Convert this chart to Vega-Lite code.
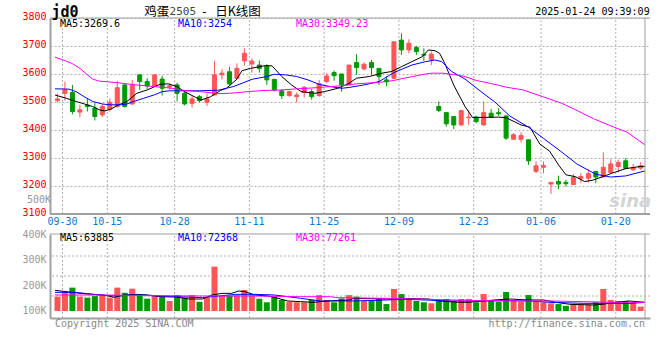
{
"$schema": "https://vega.github.io/schema/vega-lite/v6.json",
"autosize": {"type": "none"},
"width": 600,
"height": 300,
"padding": {"left": 50, "top": 18, "right": 10, "bottom": 42},
"background": "white",
"config": {
  "view": {"stroke": null},
  "axis": {"labelFont": "DejaVu Sans Mono", "labelFontSize": 10, "ticks": false, "domainColor": "#a0a0a0", "domainWidth": 2, "title": null}
},
"datasets": {
"ticks": [
{"i":0,"d":"09-30"},{"i":6,"d":"10-15"},{"i":15,"d":"10-28"},{"i":25,"d":"11-11"},{"i":35,"d":"11-25"},{"i":45,"d":"12-09"},{"i":55,"d":"12-23"},{"i":64,"d":"01-06"},{"i":74,"d":"01-20"}
],
"k": [
{"i":0,"d":"09-30","o":3505,"h":3530,"l":3499,"c":3511,"v":156},
{"i":1,"d":"10-08","o":3531,"h":3573,"l":3505,"c":3543,"v":173},
{"i":2,"d":"10-09","o":3534,"h":3561,"l":3456,"c":3466,"v":191},
{"i":3,"d":"10-10","o":3464,"h":3490,"l":3445,"c":3472,"v":156},
{"i":4,"d":"10-11","o":3489,"h":3513,"l":3466,"c":3484,"v":152},
{"i":5,"d":"10-14","o":3478,"h":3498,"l":3434,"c":3448,"v":158},
{"i":6,"d":"10-15","o":3454,"h":3493,"l":3446,"c":3484,"v":162},
{"i":7,"d":"10-16","o":3474,"h":3513,"l":3466,"c":3499,"v":152},
{"i":8,"d":"10-17","o":3484,"h":3575,"l":3480,"c":3551,"v":191},
{"i":9,"d":"10-18","o":3561,"h":3567,"l":3480,"c":3484,"v":171},
{"i":10,"d":"10-21","o":3493,"h":3579,"l":3490,"c":3561,"v":187},
{"i":11,"d":"10-22","o":3597,"h":3597,"l":3543,"c":3573,"v":162},
{"i":12,"d":"10-23","o":3573,"h":3585,"l":3546,"c":3557,"v":148},
{"i":13,"d":"10-24","o":3557,"h":3597,"l":3555,"c":3597,"v":158},
{"i":14,"d":"10-25","o":3582,"h":3594,"l":3523,"c":3549,"v":158},
{"i":15,"d":"10-28","o":3553,"h":3567,"l":3543,"c":3558,"v":139},
{"i":16,"d":"10-29","o":3561,"h":3569,"l":3502,"c":3531,"v":162},
{"i":17,"d":"10-30","o":3531,"h":3537,"l":3488,"c":3493,"v":152},
{"i":18,"d":"10-31","o":3495,"h":3525,"l":3480,"c":3511,"v":162},
{"i":19,"d":"11-01","o":3519,"h":3525,"l":3498,"c":3505,"v":136},
{"i":20,"d":"11-04","o":3499,"h":3531,"l":3486,"c":3511,"v":152},
{"i":21,"d":"11-05","o":3525,"h":3647,"l":3525,"c":3597,"v":273},
{"i":22,"d":"11-06","o":3597,"h":3617,"l":3581,"c":3603,"v":158},
{"i":23,"d":"11-07","o":3608,"h":3626,"l":3561,"c":3565,"v":160},
{"i":24,"d":"11-08","o":3585,"h":3638,"l":3581,"c":3620,"v":162},
{"i":25,"d":"11-11","o":3647,"h":3692,"l":3630,"c":3674,"v":182},
{"i":26,"d":"11-12","o":3636,"h":3656,"l":3605,"c":3646,"v":162},
{"i":27,"d":"11-13","o":3632,"h":3648,"l":3605,"c":3620,"v":148},
{"i":28,"d":"11-14","o":3629,"h":3635,"l":3561,"c":3579,"v":134},
{"i":29,"d":"11-15","o":3581,"h":3581,"l":3537,"c":3543,"v":156},
{"i":30,"d":"11-18","o":3540,"h":3546,"l":3511,"c":3523,"v":143},
{"i":31,"d":"11-19","o":3523,"h":3541,"l":3519,"c":3537,"v":136},
{"i":32,"d":"11-20","o":3519,"h":3534,"l":3498,"c":3525,"v":134},
{"i":33,"d":"11-21","o":3534,"h":3555,"l":3516,"c":3553,"v":134},
{"i":34,"d":"11-22","o":3537,"h":3546,"l":3508,"c":3519,"v":143},
{"i":35,"d":"11-25","o":3523,"h":3579,"l":3519,"c":3565,"v":162},
{"i":36,"d":"11-26","o":3573,"h":3603,"l":3567,"c":3593,"v":143},
{"i":37,"d":"11-27","o":3605,"h":3612,"l":3576,"c":3594,"v":134},
{"i":38,"d":"11-28","o":3600,"h":3600,"l":3537,"c":3561,"v":149},
{"i":39,"d":"11-29","o":3561,"h":3632,"l":3561,"c":3632,"v":162},
{"i":40,"d":"12-02","o":3641,"h":3671,"l":3597,"c":3623,"v":156},
{"i":41,"d":"12-03","o":3618,"h":3641,"l":3614,"c":3635,"v":139},
{"i":42,"d":"12-04","o":3641,"h":3650,"l":3597,"c":3623,"v":139},
{"i":43,"d":"12-05","o":3620,"h":3620,"l":3561,"c":3591,"v":149},
{"i":44,"d":"12-06","o":3579,"h":3591,"l":3557,"c":3572,"v":127},
{"i":45,"d":"12-09","o":3585,"h":3715,"l":3581,"c":3715,"v":186},
{"i":46,"d":"12-10","o":3721,"h":3745,"l":3668,"c":3686,"v":166},
{"i":47,"d":"12-11","o":3686,"h":3724,"l":3674,"c":3710,"v":149},
{"i":48,"d":"12-12","o":3695,"h":3701,"l":3668,"c":3680,"v":139},
{"i":49,"d":"12-13","o":3670,"h":3692,"l":3647,"c":3667,"v":134},
{"i":50,"d":"12-16","o":3652,"h":3680,"l":3632,"c":3671,"v":130},
{"i":51,"d":"12-17","o":3484,"h":3502,"l":3464,"c":3470,"v":143},
{"i":52,"d":"12-18","o":3462,"h":3462,"l":3412,"c":3422,"v":147},
{"i":53,"d":"12-19","o":3448,"h":3448,"l":3403,"c":3418,"v":140},
{"i":54,"d":"12-20","o":3418,"h":3472,"l":3415,"c":3469,"v":147},
{"i":55,"d":"12-23","o":3444,"h":3472,"l":3418,"c":3446,"v":147},
{"i":56,"d":"12-24","o":3446,"h":3451,"l":3424,"c":3430,"v":134},
{"i":57,"d":"12-25","o":3418,"h":3502,"l":3415,"c":3462,"v":166},
{"i":58,"d":"12-26","o":3460,"h":3475,"l":3443,"c":3446,"v":139},
{"i":59,"d":"12-27","o":3462,"h":3478,"l":3450,"c":3458,"v":136},
{"i":60,"d":"12-30","o":3450,"h":3454,"l":3365,"c":3371,"v":174},
{"i":61,"d":"12-31","o":3367,"h":3389,"l":3365,"c":3383,"v":139},
{"i":62,"d":"01-02","o":3367,"h":3392,"l":3355,"c":3380,"v":136},
{"i":63,"d":"01-03","o":3365,"h":3365,"l":3276,"c":3290,"v":162},
{"i":64,"d":"01-06","o":3252,"h":3288,"l":3246,"c":3272,"v":139},
{"i":65,"d":"01-07","o":3267,"h":3288,"l":3246,"c":3273,"v":134},
{"i":66,"d":"01-08","o":3207,"h":3213,"l":3172,"c":3213,"v":130},
{"i":67,"d":"01-09","o":3216,"h":3237,"l":3189,"c":3207,"v":127},
{"i":68,"d":"01-10","o":3213,"h":3222,"l":3198,"c":3208,"v":120},
{"i":69,"d":"01-13","o":3205,"h":3242,"l":3205,"c":3231,"v":126},
{"i":70,"d":"01-14","o":3226,"h":3246,"l":3210,"c":3234,"v":126},
{"i":71,"d":"01-15","o":3228,"h":3260,"l":3213,"c":3244,"v":126},
{"i":72,"d":"01-16","o":3252,"h":3254,"l":3210,"c":3232,"v":134},
{"i":73,"d":"01-17","o":3232,"h":3320,"l":3232,"c":3267,"v":186},
{"i":74,"d":"01-20","o":3248,"h":3296,"l":3246,"c":3279,"v":143},
{"i":75,"d":"01-21","o":3270,"h":3294,"l":3248,"c":3284,"v":139},
{"i":76,"d":"01-22","o":3290,"h":3300,"l":3260,"c":3263,"v":139},
{"i":77,"d":"01-23","o":3258,"h":3279,"l":3254,"c":3266,"v":134},
{"i":78,"d":"01-24","o":3264,"h":3284,"l":3258,"c":3272,"v":117}
],
"ma": [
{"s":"MA5","i":-0.33,"v":3525},{"s":"MA5","i":1.2,"v":3513},{"s":"MA5","i":2.5,"v":3502},{"s":"MA5","i":3.6,"v":3493},{"s":"MA5","i":4.7,"v":3484},{"s":"MA5","i":5.6,"v":3472},{"s":"MA5","i":6.3,"v":3468},{"s":"MA5","i":7.1,"v":3474},{"s":"MA5","i":8.2,"v":3490},{"s":"MA5","i":9.3,"v":3502},{"s":"MA5","i":10.6,"v":3531},{"s":"MA5","i":12,"v":3543},{"s":"MA5","i":13.7,"v":3563},{"s":"MA5","i":14.8,"v":3565},{"s":"MA5","i":16,"v":3555},{"s":"MA5","i":17,"v":3537},{"s":"MA5","i":18,"v":3523},{"s":"MA5","i":19.2,"v":3507},{"s":"MA5","i":20.5,"v":3519},{"s":"MA5","i":21.8,"v":3541},{"s":"MA5","i":22.6,"v":3549},{"s":"MA5","i":23.9,"v":3579},{"s":"MA5","i":24.7,"v":3612},{"s":"MA5","i":25.8,"v":3620},{"s":"MA5","i":27.8,"v":3630},{"s":"MA5","i":28.7,"v":3629},{"s":"MA5","i":30,"v":3591},{"s":"MA5","i":31.3,"v":3561},{"s":"MA5","i":32.6,"v":3537},{"s":"MA5","i":34.4,"v":3531},{"s":"MA5","i":35.7,"v":3537},{"s":"MA5","i":37.5,"v":3549},{"s":"MA5","i":39,"v":3567},{"s":"MA5","i":40,"v":3585},{"s":"MA5","i":41.7,"v":3591},{"s":"MA5","i":43.4,"v":3603},{"s":"MA5","i":44.7,"v":3609},{"s":"MA5","i":46,"v":3626},{"s":"MA5","i":47.4,"v":3644},{"s":"MA5","i":48.8,"v":3662},{"s":"MA5","i":49.6,"v":3686},{"s":"MA5","i":50.5,"v":3683},{"s":"MA5","i":51.1,"v":3674},{"s":"MA5","i":51.8,"v":3638},{"s":"MA5","i":53,"v":3560},{"s":"MA5","i":54.5,"v":3484},{"s":"MA5","i":55.5,"v":3445},{"s":"MA5","i":57,"v":3445},{"s":"MA5","i":59,"v":3446},{"s":"MA5","i":60,"v":3444},{"s":"MA5","i":62,"v":3418},{"s":"MA5","i":63.2,"v":3410},{"s":"MA5","i":64.5,"v":3350},{"s":"MA5","i":65.8,"v":3325},{"s":"MA5","i":67.1,"v":3272},{"s":"MA5","i":68,"v":3240},{"s":"MA5","i":69.3,"v":3233},{"s":"MA5","i":70.5,"v":3216},{"s":"MA5","i":71.5,"v":3220},{"s":"MA5","i":72.8,"v":3232},{"s":"MA5","i":74.2,"v":3246},{"s":"MA5","i":76,"v":3262},{"s":"MA5","i":78,"v":3270},{"s":"MA5","i":78.58,"v":3270},
{"s":"MA10","i":-0.33,"v":3547},{"s":"MA10","i":1.5,"v":3546},{"s":"MA10","i":2.5,"v":3537},{"s":"MA10","i":3.5,"v":3520},{"s":"MA10","i":4.7,"v":3502},{"s":"MA10","i":6,"v":3493},{"s":"MA10","i":7,"v":3490},{"s":"MA10","i":8.5,"v":3490},{"s":"MA10","i":9.3,"v":3493},{"s":"MA10","i":10.2,"v":3502},{"s":"MA10","i":11.5,"v":3513},{"s":"MA10","i":13,"v":3526},{"s":"MA10","i":14,"v":3537},{"s":"MA10","i":15,"v":3540},{"s":"MA10","i":19,"v":3540},{"s":"MA10","i":21.5,"v":3542},{"s":"MA10","i":23.5,"v":3555},{"s":"MA10","i":24.7,"v":3567},{"s":"MA10","i":26,"v":3581},{"s":"MA10","i":28,"v":3591},{"s":"MA10","i":29,"v":3599},{"s":"MA10","i":30.5,"v":3597},{"s":"MA10","i":32,"v":3591},{"s":"MA10","i":33.5,"v":3579},{"s":"MA10","i":35,"v":3563},{"s":"MA10","i":36.5,"v":3555},{"s":"MA10","i":38,"v":3549},{"s":"MA10","i":39,"v":3552},{"s":"MA10","i":41,"v":3561},{"s":"MA10","i":43,"v":3573},{"s":"MA10","i":45,"v":3605},{"s":"MA10","i":47.4,"v":3632},{"s":"MA10","i":49.2,"v":3644},{"s":"MA10","i":50.5,"v":3650},{"s":"MA10","i":51.4,"v":3644},{"s":"MA10","i":52.7,"v":3609},{"s":"MA10","i":54.5,"v":3582},{"s":"MA10","i":56.5,"v":3540},{"s":"MA10","i":58.5,"v":3500},{"s":"MA10","i":60.5,"v":3450},{"s":"MA10","i":63,"v":3410},{"s":"MA10","i":65,"v":3370},{"s":"MA10","i":67.4,"v":3322},{"s":"MA10","i":69.5,"v":3278},{"s":"MA10","i":72,"v":3242},{"s":"MA10","i":74,"v":3232},{"s":"MA10","i":76,"v":3236},{"s":"MA10","i":78.58,"v":3254},
{"s":"MA30","i":-0.33,"v":3660},{"s":"MA30","i":1,"v":3648},{"s":"MA30","i":2,"v":3637},{"s":"MA30","i":3,"v":3620},{"s":"MA30","i":4,"v":3597},{"s":"MA30","i":4.7,"v":3582},{"s":"MA30","i":5.5,"v":3575},{"s":"MA30","i":8,"v":3569},{"s":"MA30","i":10.5,"v":3561},{"s":"MA30","i":13,"v":3555},{"s":"MA30","i":15,"v":3550},{"s":"MA30","i":17,"v":3541},{"s":"MA30","i":19.5,"v":3536},{"s":"MA30","i":21.5,"v":3530},{"s":"MA30","i":23,"v":3531},{"s":"MA30","i":25.5,"v":3537},{"s":"MA30","i":27.5,"v":3541},{"s":"MA30","i":30,"v":3543},{"s":"MA30","i":32,"v":3547},{"s":"MA30","i":34,"v":3550},{"s":"MA30","i":36,"v":3554},{"s":"MA30","i":38,"v":3558},{"s":"MA30","i":40,"v":3565},{"s":"MA30","i":43,"v":3570},{"s":"MA30","i":45,"v":3577},{"s":"MA30","i":46,"v":3583},{"s":"MA30","i":47.5,"v":3591},{"s":"MA30","i":49,"v":3599},{"s":"MA30","i":50,"v":3603},{"s":"MA30","i":51.5,"v":3603},{"s":"MA30","i":53,"v":3598},{"s":"MA30","i":54.5,"v":3591},{"s":"MA30","i":56,"v":3577},{"s":"MA30","i":58,"v":3566},{"s":"MA30","i":60,"v":3553},{"s":"MA30","i":62.3,"v":3543},{"s":"MA30","i":64.9,"v":3519},{"s":"MA30","i":67.4,"v":3496},{"s":"MA30","i":69.3,"v":3472},{"s":"MA30","i":71.8,"v":3439},{"s":"MA30","i":73.7,"v":3418},{"s":"MA30","i":76.2,"v":3392},{"s":"MA30","i":78.58,"v":3347}
],
"vma": [
{"s":"MA5","i":-0.33,"v":180.5},{"s":"MA5","i":1.9,"v":172.7},{"s":"MA5","i":4.5,"v":164.9},{"s":"MA5","i":6.2,"v":162.3},{"s":"MA5","i":7.6,"v":153.2},{"s":"MA5","i":8.9,"v":162.3},{"s":"MA5","i":10.6,"v":164.9},{"s":"MA5","i":11.9,"v":162.3},{"s":"MA5","i":13.7,"v":155.8},{"s":"MA5","i":15.9,"v":154.5},{"s":"MA5","i":17.6,"v":146.7},{"s":"MA5","i":19.4,"v":146.7},{"s":"MA5","i":20.7,"v":162.3},{"s":"MA5","i":22,"v":168.8},{"s":"MA5","i":23.3,"v":168.8},{"s":"MA5","i":24.2,"v":177.9},{"s":"MA5","i":25.1,"v":175.3},{"s":"MA5","i":26.4,"v":162.3},{"s":"MA5","i":28.2,"v":158.4},{"s":"MA5","i":29.5,"v":149.4},{"s":"MA5","i":30.8,"v":139},{"s":"MA5","i":32.5,"v":136.4},{"s":"MA5","i":34.3,"v":133.8},{"s":"MA5","i":36.1,"v":139},{"s":"MA5","i":39.1,"v":142.9},{"s":"MA5","i":39.6,"v":149.4},{"s":"MA5","i":44,"v":146.7},{"s":"MA5","i":46.1,"v":149.4},{"s":"MA5","i":49.6,"v":146.7},{"s":"MA5","i":51,"v":139},{"s":"MA5","i":53.6,"v":133.8},{"s":"MA5","i":54.9,"v":133.8},{"s":"MA5","i":57.1,"v":139},{"s":"MA5","i":58.4,"v":142.9},{"s":"MA5","i":60.6,"v":146.7},{"s":"MA5","i":62.8,"v":142.9},{"s":"MA5","i":65,"v":142.9},{"s":"MA5","i":66.7,"v":133.8},{"s":"MA5","i":68.5,"v":126},{"s":"MA5","i":71.6,"v":123.4},{"s":"MA5","i":72.9,"v":126},{"s":"MA5","i":74.6,"v":133.8},{"s":"MA5","i":76.4,"v":139},{"s":"MA5","i":78.58,"v":133.8},
{"s":"MA10","i":-0.33,"v":172.7},{"s":"MA10","i":2.3,"v":172.7},{"s":"MA10","i":4,"v":167.5},{"s":"MA10","i":5.8,"v":162.3},{"s":"MA10","i":8,"v":158.4},{"s":"MA10","i":9.8,"v":162.3},{"s":"MA10","i":11.9,"v":162.3},{"s":"MA10","i":13.7,"v":158.4},{"s":"MA10","i":16.3,"v":155.8},{"s":"MA10","i":19.4,"v":151.9},{"s":"MA10","i":20.7,"v":155.8},{"s":"MA10","i":23.8,"v":164.9},{"s":"MA10","i":26.4,"v":164.9},{"s":"MA10","i":29,"v":162.3},{"s":"MA10","i":30.8,"v":155.8},{"s":"MA10","i":32.5,"v":149.4},{"s":"MA10","i":35.2,"v":139},{"s":"MA10","i":39.6,"v":139},{"s":"MA10","i":44,"v":142.9},{"s":"MA10","i":46.1,"v":145.5},{"s":"MA10","i":49.2,"v":142.9},{"s":"MA10","i":52.7,"v":139},{"s":"MA10","i":57.1,"v":139},{"s":"MA10","i":59.7,"v":140.3},{"s":"MA10","i":63.2,"v":139},{"s":"MA10","i":65.9,"v":133.8},{"s":"MA10","i":70.3,"v":129.9},{"s":"MA10","i":76.8,"v":129.9},{"s":"MA10","i":78.58,"v":133.8},
{"s":"MA30","i":-0.33,"v":162.3},{"s":"MA30","i":6.2,"v":162.3},{"s":"MA30","i":12.8,"v":159.7},{"s":"MA30","i":19.4,"v":158.4},{"s":"MA30","i":26,"v":158.4},{"s":"MA30","i":32.5,"v":155.8},{"s":"MA30","i":36.5,"v":155.8},{"s":"MA30","i":37.4,"v":151.9},{"s":"MA30","i":44,"v":149.4},{"s":"MA30","i":48.3,"v":146.7},{"s":"MA30","i":52.7,"v":142.9},{"s":"MA30","i":57.1,"v":140.3},{"s":"MA30","i":61.5,"v":139},{"s":"MA30","i":65.9,"v":139},{"s":"MA30","i":70.3,"v":136.4},{"s":"MA30","i":74.6,"v":133.8},{"s":"MA30","i":78.58,"v":133.8}
]
},
"resolve": {"scale": {"y": "independent"}, "axis": {"y": "independent"}},
"layer": [
{
  "layer": [
    {
      "data": {"name": "ticks"},
      "mark": {"type": "rule", "strokeDash": [2, 2], "color": "#b0b0b0", "strokeWidth": 1, "xOffset": 5},
      "encoding": {
        "x": {"field": "i", "type": "quantitative", "scale": {"domain": [-0.329, 78.577], "nice": false, "zero": false},
              "axis": {"labels": false, "grid": false, "ticks": false}},
        "y": {"datum": 3100, "type": "quantitative", "scale": {"domain": [3100, 3800], "range": [196, 0], "nice": false, "zero": false},
              "axis": {"values": [3100, 3200, 3300, 3400, 3500, 3600, 3700, 3800], "format": "d", "grid": true, "gridDash": [2, 2], "gridColor": "#b0b0b0", "labelColor": "#ee0000", "labelPadding": 4, "labelOffset": -2}},
        "y2": {"datum": 3800}
      }
    },
    {
      "data": {"name": "k"},
      "mark": {"type": "rule", "strokeWidth": 1},
      "encoding": {
        "x": {"field": "i", "type": "quantitative"},
        "y": {"field": "l", "type": "quantitative"},
        "y2": {"field": "h"},
        "color": {"condition": {"test": "datum.c >= datum.o", "value": "#ff5555"}, "value": "#009a00"}
      }
    },
    {
      "data": {"name": "k"},
      "mark": {"type": "bar", "size": 4, "strokeWidth": 1},
      "encoding": {
        "x": {"field": "i", "type": "quantitative"},
        "y": {"field": "o", "type": "quantitative"},
        "y2": {"field": "c"},
        "color": {"condition": {"test": "datum.c >= datum.o", "value": "#ff5555"}, "value": "#009a00"},
        "stroke": {"condition": {"test": "datum.c >= datum.o", "value": "#ff5555"}, "value": "#009a00"}
      }
    },
    {
      "data": {"name": "ma"},
      "mark": {"type": "line", "strokeWidth": 1},
      "encoding": {
        "x": {"field": "i", "type": "quantitative"},
        "y": {"field": "v", "type": "quantitative"},
        "color": {"field": "s", "type": "nominal", "scale": {"domain": ["MA5", "MA10", "MA30"], "range": ["#000000", "#0000ff", "#ff00ff"]}, "legend": null},
        "detail": {"field": "s"}
      }
    },
    {"data": {"values": [{}]}, "mark": {"type": "rule", "color": "#a0a0a0", "strokeWidth": 1}, "encoding": {"y": {"datum": 3800}}},
    {"data": {"values": [{}]}, "mark": {"type": "rule", "color": "#a0a0a0", "strokeWidth": 2}, "encoding": {"y": {"datum": 3100}}},
    {"data": {"values": [{}]}, "mark": {"type": "rule", "color": "#a0a0a0", "strokeWidth": 1}, "encoding": {"x": {"datum": 78.577}, "y": {"datum": 3100}, "y2": {"datum": 3800}}},
    {
      "data": {"name": "ticks"},
      "mark": {"type": "text", "font": "DejaVu Sans Mono", "fontSize": 10, "align": "center", "baseline": "middle", "color": "#0a78d2", "xOffset": 5},
      "encoding": {"x": {"field": "i", "type": "quantitative"}, "y": {"datum": 3072}, "text": {"field": "d"}}
    },
    {"data": {"values": [{}]}, "mark": {"type": "text", "font": "DejaVu Sans Mono", "fontWeight": "bold", "fontSize": 15, "align": "left", "baseline": "middle", "color": "#000"},
     "encoding": {"x": {"datum": -0.8}, "y": {"datum": 3822}, "text": {"value": "jd0"}}},
    {"data": {"values": [{}]}, "mark": {"type": "text", "font": "Noto Sans CJK SC", "fontSize": 12.5, "align": "left", "baseline": "middle", "color": "#000"},
     "encoding": {"x": {"datum": 11.6}, "y": {"datum": 3822}, "text": {"value": "鸡蛋"}}},
    {"data": {"values": [{}]}, "mark": {"type": "text", "font": "DejaVu Sans Mono", "fontSize": 11, "align": "left", "baseline": "middle", "color": "#444444"},
     "encoding": {"x": {"datum": 15.0}, "y": {"datum": 3821}, "text": {"value": "2505"}}},
    {"data": {"values": [{}]}, "mark": {"type": "text", "font": "DejaVu Sans Mono", "fontSize": 12, "align": "center", "baseline": "middle", "color": "#000"},
     "encoding": {"x": {"datum": 19.66}, "y": {"datum": 3821}, "text": {"value": "-"}}},
    {"data": {"values": [{}]}, "mark": {"type": "text", "font": "Noto Sans CJK SC", "fontSize": 12.5, "align": "left", "baseline": "middle", "color": "#000"},
     "encoding": {"x": {"datum": 21.1}, "y": {"datum": 3822}, "text": {"value": "日K线图"}}},
    {"data": {"values": [{}]}, "mark": {"type": "text", "font": "DejaVu Sans Mono", "fontSize": 10, "align": "right", "baseline": "middle", "color": "#000"},
     "encoding": {"x": {"datum": 79.2}, "y": {"datum": 3820}, "text": {"value": "2025-01-24 09:39:09"}}},
    {"data": {"values": [{}]}, "mark": {"type": "text", "font": "DejaVu Sans Mono", "fontSize": 10, "align": "left", "baseline": "middle", "color": "#000000"},
     "encoding": {"x": {"datum": 0.33}, "y": {"datum": 3777}, "text": {"value": "MA5:3269.6"}}},
    {"data": {"values": [{}]}, "mark": {"type": "text", "font": "DejaVu Sans Mono", "fontSize": 10, "align": "left", "baseline": "middle", "color": "#0000ff"},
     "encoding": {"x": {"datum": 16.11}, "y": {"datum": 3777}, "text": {"value": "MA10:3254"}}},
    {"data": {"values": [{}]}, "mark": {"type": "text", "font": "DejaVu Sans Mono", "fontSize": 10, "align": "left", "baseline": "middle", "color": "#ff00ff"},
     "encoding": {"x": {"datum": 31.89}, "y": {"datum": 3777}, "text": {"value": "MA30:3349.23"}}},
    {"data": {"values": [{}]}, "mark": {"type": "text", "font": "DejaVu Sans Mono", "fontSize": 10, "align": "right", "baseline": "middle", "color": "#999999"},
     "encoding": {"x": {"datum": -0.855}, "y": {"datum": 3150}, "text": {"value": "500K"}}},
    {"data": {"values": [{}]}, "mark": {"type": "text", "font": "DejaVu Sans", "fontStyle": "italic", "fontWeight": "bold", "fontSize": 18, "align": "center", "baseline": "middle", "color": "#d4d4d4"},
     "encoding": {"x": {"datum": 76.6}, "y": {"datum": 3143}, "text": {"value": "sina"}}}
  ]
},
{
  "layer": [
    {
      "data": {"name": "ticks"},
      "mark": {"type": "rule", "strokeDash": [2, 2], "color": "#b0b0b0", "strokeWidth": 1, "xOffset": 5},
      "encoding": {
        "x": {"field": "i", "type": "quantitative"},
        "y": {"datum": 72.7, "type": "quantitative", "scale": {"domain": [72.7, 400], "range": [300, 216], "nice": false, "zero": false},
              "axis": {"orient": "left", "values": [100, 200, 300, 400], "grid": false, "labelColor": "#999999", "labelPadding": 4, "labelExpr": "datum.value + 'K'"}},
        "y2": {"datum": 400}
      }
    },
    {"data": {"values": [{}]}, "mark": {"type": "rule", "strokeDash": [2, 2], "color": "#b0b0b0", "strokeWidth": 1}, "encoding": {"y": {"datum": 158.4}}},
    {"data": {"values": [{}]}, "mark": {"type": "rule", "strokeDash": [2, 2], "color": "#b0b0b0", "strokeWidth": 1}, "encoding": {"y": {"datum": 236.4}}},
    {"data": {"values": [{}]}, "mark": {"type": "rule", "strokeDash": [2, 2], "color": "#b0b0b0", "strokeWidth": 1}, "encoding": {"y": {"datum": 314.3}}},
    {
      "data": {"name": "k"},
      "mark": {"type": "bar", "size": 6},
      "encoding": {
        "x": {"field": "i", "type": "quantitative"},
        "y": {"field": "v", "type": "quantitative"},
        "y2": {"datum": 100},
        "color": {"condition": {"test": "datum.c >= datum.o", "value": "#ff5555"}, "value": "#009a00"}
      }
    },
    {
      "data": {"name": "vma"},
      "mark": {"type": "line", "strokeWidth": 1},
      "encoding": {
        "x": {"field": "i", "type": "quantitative"},
        "y": {"field": "v", "type": "quantitative"},
        "color": {"field": "s", "type": "nominal", "scale": {"domain": ["MA5", "MA10", "MA30"], "range": ["#000000", "#0000ff", "#ff00ff"]}, "legend": null},
        "detail": {"field": "s"}
      }
    },
    {"data": {"values": [{}]}, "mark": {"type": "rule", "color": "#a0a0a0", "strokeWidth": 1}, "encoding": {"y": {"datum": 400}}},
    {"data": {"values": [{}]}, "mark": {"type": "rule", "color": "#a0a0a0", "strokeWidth": 1}, "encoding": {"x": {"datum": 78.577}, "y": {"datum": 72.7}, "y2": {"datum": 400}}},
    {"data": {"values": [{}]}, "mark": {"type": "text", "font": "DejaVu Sans Mono", "fontSize": 10, "align": "left", "baseline": "middle", "color": "#000000"},
     "encoding": {"x": {"datum": 0.33}, "y": {"datum": 384}, "text": {"value": "MA5:63885"}}},
    {"data": {"values": [{}]}, "mark": {"type": "text", "font": "DejaVu Sans Mono", "fontSize": 10, "align": "left", "baseline": "middle", "color": "#0000ff"},
     "encoding": {"x": {"datum": 16.11}, "y": {"datum": 384}, "text": {"value": "MA10:72368"}}},
    {"data": {"values": [{}]}, "mark": {"type": "text", "font": "DejaVu Sans Mono", "fontSize": 10, "align": "left", "baseline": "middle", "color": "#ff00ff"},
     "encoding": {"x": {"datum": 31.89}, "y": {"datum": 384}, "text": {"value": "MA30:77261"}}},
    {"data": {"values": [{}]}, "mark": {"type": "text", "font": "DejaVu Sans Mono", "fontSize": 10, "align": "left", "baseline": "middle", "color": "#888888"},
     "encoding": {"x": {"datum": -0.329}, "y": {"datum": 49}, "text": {"value": "Copyright 2025 SINA.COM"}}},
    {"data": {"values": [{}]}, "mark": {"type": "text", "font": "DejaVu Sans Mono", "fontSize": 10, "align": "right", "baseline": "middle", "color": "#888888"},
     "encoding": {"x": {"datum": 78.577}, "y": {"datum": 49}, "text": {"value": "http://finance.sina.com.cn"}}}
  ]
}
]
}
